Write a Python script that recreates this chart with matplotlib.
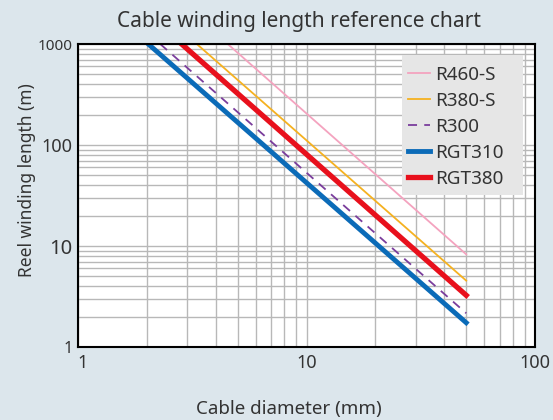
import matplotlib
matplotlib.use("Agg")
import matplotlib.pyplot as plt
import matplotlib.transforms as mtransforms
from matplotlib.patches import Rectangle
from matplotlib.ticker import LogLocator, NullFormatter, FixedLocator

plt.rcParams['font.family'] = ['Noto Sans', 'DejaVu Sans']

# Data (cable diameter mm -> reel winding length m)
series_names = ["R460-S", "R380-S", "R300", "RGT310", "RGT380"]
r460s_d = [4.52, 50]
r460s_L = [1000, 8.27]
r380s_d = [3.31, 50]
r380s_L = [1000, 4.54]
r300_d = [2.29, 50]
r300_L = [1000, 2.16]
rgt310_d = [2.03, 50]
rgt310_L = [1000, 1.74]
rgt380_d = [2.84, 50]
rgt380_L = [1000, 3.25]

x_ticks = [1, 10, 100]
x_ticklabels = ["1", "10", "100"]
y_ticks = [1, 10, 100, 1000]
y_ticklabels = ["1", "10", "100", "1000"]

bg = '#dce6ec'
fig = plt.figure(figsize=(5.53, 4.2), dpi=100, facecolor=bg)
ax = fig.add_axes([78/553, 1-347/420, (535-78)/553, (347-44)/420])
ax.set_facecolor('white')
ax.set_xscale('log')
ax.set_yscale('log')
ax.set_xlim(1, 100)
ax.set_ylim(1, 1000)

ax.xaxis.set_major_locator(FixedLocator(x_ticks))
ax.yaxis.set_major_locator(FixedLocator(y_ticks))
ax.xaxis.set_minor_locator(LogLocator(base=10, subs=range(2, 10)))
ax.yaxis.set_minor_locator(LogLocator(base=10, subs=range(2, 10)))
ax.xaxis.set_minor_formatter(NullFormatter())
ax.yaxis.set_minor_formatter(NullFormatter())
ax.grid(True, which='both', color='#b8b8b8', linewidth=1.0)
ax.set_axisbelow(True)
ax.tick_params(which='both', length=0)

ax.set_xticklabels(x_ticklabels, fontsize=13, color='#333333')
ax.tick_params(axis='x', pad=5)
ax.set_yticklabels(y_ticklabels, color='#333333')
ax.tick_params(axis='y', pad=4)
ysizes = [11.5, 14.5, 13, 11]
for lab, s in zip(ax.get_yticklabels(), ysizes):
    lab.set_fontsize(s)
first_x = ax.get_xticklabels()[0]
first_x.set_transform(first_x.get_transform() +
                      mtransforms.ScaledTranslation(5/100, 0, fig.dpi_scale_trans))

ax.plot(r460s_d, r460s_L, color='#f4a3bf', lw=1.3, label=series_names[0])
ax.plot(r380s_d, r380s_L, color='#f5b120', lw=1.3, label=series_names[1])
ax.plot(r300_d, r300_L, color='#7a3d9c', lw=1.3, dashes=(5, 4), label=series_names[2])
ax.plot(rgt310_d, rgt310_L, color='#0b6bb8', lw=3.5, label=series_names[3])
ax.plot(rgt380_d, rgt380_L, color='#e8101c', lw=3.8, label=series_names[4])

for s in ax.spines.values():
    s.set_color('black')
    s.set_linewidth(1.5)

# legend background box
x0, x1 = (402-78)/457, (523-78)/457
y0, y1 = (347-195)/303, (347-55)/303
ax.add_patch(Rectangle((x0, y0), x1-x0, y1-y0, transform=ax.transAxes,
                       facecolor='#e6e6e6', edgecolor='none', zorder=4))

leg = ax.legend(loc='upper left', bbox_to_anchor=((408-78)/457, (347-66)/303), frameon=False,
                fontsize=13.6, handlelength=1.17, handletextpad=0.27, labelspacing=0.42,
                borderpad=0, borderaxespad=0)
leg.set_zorder(5)
for t in leg.get_texts():
    t.set_color('#333333')

fig.text(0.54, 1-22/420, "Cable winding length reference chart", ha='center', va='center',
         fontsize=15, color='#333333')
fig.text(289/553, 1-409/420, "Cable diameter (mm)", ha='center', va='center',
         fontsize=13.5, color='#333333')
fig.text(27/553, 1-180/420, "Reel winding length (m)", ha='center', va='center',
         rotation=90, fontsize=12.5, color='#333333')

fig.savefig('out.png', dpi=100, facecolor=bg)
